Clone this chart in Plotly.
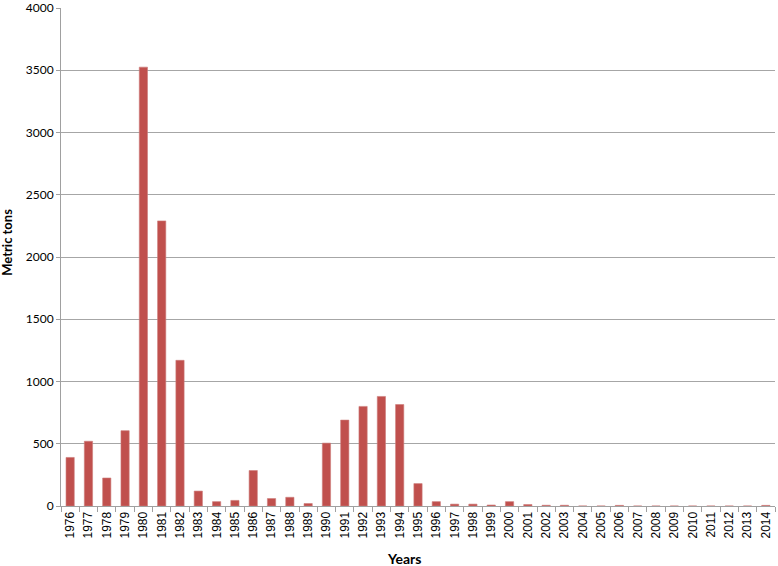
import plotly.graph_objects as go

years = [str(y) for y in range(1976, 2015)]
values = [390, 520, 225, 605, 3525, 2290, 1170, 120, 35, 45,
          285, 60, 70, 20, 505, 690, 800, 880, 815, 180,
          35, 15, 15, 8, 35, 12, 6, 6, 0, 0,
          5, 0, 0, 0, 0, 0, 0, 0, 5]

fig = go.Figure(go.Bar(x=years, y=values, marker=dict(color="#C0504D", line=dict(color="#CD7C7A", width=0.6))))

fig.update_layout(
    width=778, height=566,
    margin=dict(l=61, r=3, t=8, b=60),
    plot_bgcolor="white", paper_bgcolor="white",
    bargap=0.55,
    showlegend=False,
    font=dict(family="Liberation Sans", size=12, color="black"),
    annotations=[
        dict(text="<b>Years</b>", xref="paper", yref="paper", x=0.48, y=-0.106,
             xanchor="center", yanchor="middle", showarrow=False,
             font=dict(family="Lato", size=14, color="black")),
        dict(text="<b>Metric tons</b>", xref="paper", yref="paper", x=-0.076, y=0.53,
             xanchor="center", yanchor="middle", showarrow=False, textangle=-90,
             font=dict(family="Lato", size=13, color="black")),
    ],
)
fig.update_xaxes(
    type="category", tickangle=-90, automargin=False,
    ticks="outside", tickson="boundaries", ticklen=5, tickcolor="#A0A0A0",
    showline=True, linecolor="#A0A0A0", linewidth=1,
    tickfont=dict(family="Liberation Sans", size=12),
)
fig.update_yaxes(
    range=[0, 4000], dtick=500, automargin=False,
    showgrid=True, gridcolor="#A6A6A6", gridwidth=1,
    showline=True, linecolor="#A0A0A0", linewidth=1,
    ticks="outside", ticklen=4, tickcolor="#A0A0A0",
    zeroline=False, ticklabeloverflow="allow",
    tickfont=dict(family="Lato", size=12),
)

fig.write_html("out.html", config={"displayModeBar": False},
               post_script="document.body.style.margin='0';document.body.style.overflow='hidden';")
